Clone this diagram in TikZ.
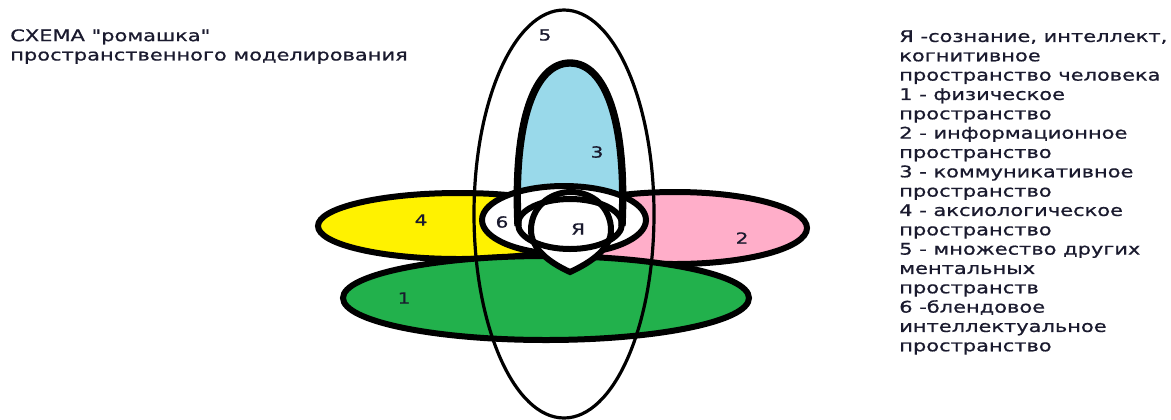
\documentclass[tikz,border=0pt]{standalone}
\usepackage{fontspec}
\newfontfamily\romfont{DejaVu Sans}[FakeStretch=1.31, FakeBold=0.8]
\usepackage{tikz}
\usetikzlibrary{positioning}
\definecolor{RomYellow}{HTML}{FFF200}
\definecolor{RomPink}{HTML}{FFAEC9}
\definecolor{RomGreen}{HTML}{22B14C}
\definecolor{RomBlue}{HTML}{99D9EA}
\definecolor{RomInk}{HTML}{1A1A2E}

\begin{document}
\begin{tikzpicture}[x=0.75pt, y=-0.75pt,
    petal/.style={draw=black, line width=4.5pt},
    thinpetal/.style={draw=black, line width=2.4pt},
    num/.style={font=\romfont\fontsize{11.5}{13}\selectfont, text=RomInk, inner sep=0pt},
    note/.style={font=\romfont\fontsize{12}{14.5}\selectfont, text=RomInk, align=left, inner sep=0pt}
  ]
    \useasboundingbox (0,0) rectangle (1171,419);
    % petals 4 and 2
    \draw[petal, fill=RomYellow] (459,226) ellipse [x radius=141, y radius=33];
    \draw[petal, fill=RomPink] (675,228) ellipse [x radius=132, y radius=36];
    % petal 1
    \draw[petal, fill=RomGreen] (546,298) ellipse [x radius=203, y radius=42];
    % petal 3
    \draw[petal, fill=RomBlue] (518,224) .. controls (513,120) and (535,63) .. (570,63)
      .. controls (605,63) and (627,120) .. (622,224)
      arc [start angle=0, end angle=180, x radius=52, y radius=25] -- cycle;
    % blend space 6 and the core
    \draw[petal, fill=white] (564,220) ellipse [x radius=82, y radius=34];
    \draw[petal, fill=white] (570,272) .. controls (548,262) and (531,248) .. (531,230)
      .. controls (531,208) and (549,192) .. (571,192)
      .. controls (593,192) and (611,208) .. (611,230)
      .. controls (611,248) and (592,262) .. (570,272) -- cycle;
    \draw[petal, line width=5.5pt] (518,226) .. controls (513,120) and (535,63) .. (570,63)
      .. controls (605,63) and (627,120) .. (622,226);
    \draw[petal] (570,224) ellipse [x radius=52, y radius=25];
    % space 5
    \draw[thinpetal] (564,214) ellipse [x radius=90, y radius=204];
    % numbers
    \node[num] (n5) at (545,35) {5};
    \node[num] (n3) at (597,152) {3};
    \node[num] (n4) at (421,220) {4};
    \node[num] (n2) at (742,238) {2};
    \node[num] (n1) at (404,298) {1};
    \node[num] (n6) at (502,222) {6};
    \node[num] (nI) at (578,229) {Я};
    % texts
    \node[note, anchor=north west] (title) at (10,29)
      {СХЕМА "ромашка"\\пространственного моделирования};
    \node[note, anchor=north west] (legend) at (899,30)
      {Я -сознание, интеллект,\\когнитивное\\пространство человека\\
       1 - физическое\\пространство\\2 - информационное\\пространство\\
       3 - коммуникативное\\пространство\\4 - аксиологическое\\пространство\\
       5 - множество других\\ментальных\\пространств\\6 -блендовое\\
       интеллектуальное\\пространство};
  \end{tikzpicture}
\end{document}
